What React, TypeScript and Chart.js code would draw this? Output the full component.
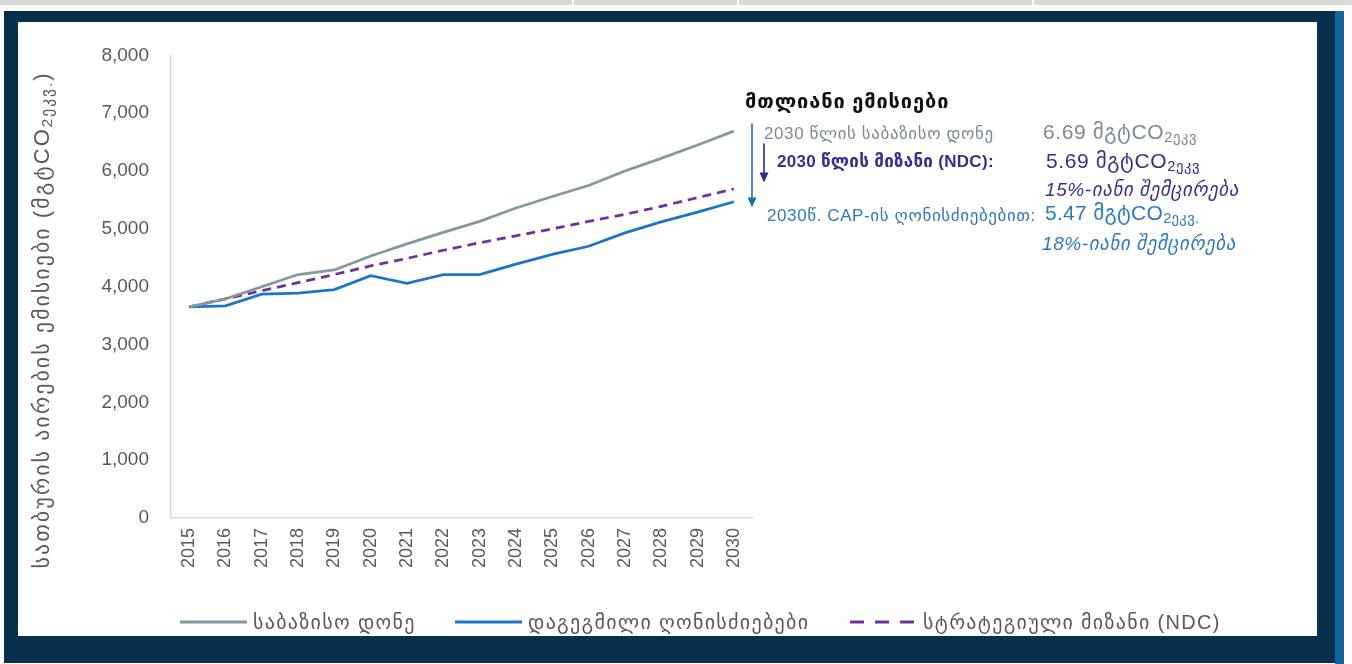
import React, { useEffect, useRef } from "react";
import { Chart, registerables } from "chart.js";

Chart.register(...registerables);

// ---- data -------------------------------------------------------------
const years = ["2015", "2016", "2017", "2018", "2019", "2020", "2021", "2022", "2023", "2024", "2025", "2026", "2027", "2028", "2029", "2030"];

// ათასი ტონა CO2 ეკვ.
const baselineLevel = [3650, 3790, 4000, 4210, 4290, 4530, 4740, 4940, 5130, 5360, 5560, 5750, 6000, 6220, 6450, 6690];
const plannedMeasures = [3650, 3670, 3870, 3890, 3950, 4190, 4060, 4210, 4210, 4390, 4560, 4700, 4930, 5120, 5290, 5470];
const ndcTarget = [3650, 3790, 3930, 4070, 4210, 4360, 4490, 4630, 4760, 4880, 5000, 5130, 5250, 5390, 5540, 5690];

const yMin = 0;
const yMax = 8000;
const yStep = 1000;

const seriesNames = ["საბაზისო დონე", "დაგეგმილი ღონისძიებები", "სტრატეგიული მიზანი (NDC)"];

// ---- styles -----------------------------------------------------------
const FONT = '"Liberation Sans", "DejaVu Sans", Arial, sans-serif';
const NAVY = "#06304b";
const TEXT_GREY = "#595959";
const AXIS_GREY = "#d9d9d9";
const BASE_COLOR = "#8399a2";
const PLAN_COLOR = "#1b75c8";
const NDC_COLOR = "#7030a0";
const NOTE_GREY = "#7b8a93";
const NOTE_PURPLE = "#3a2d8f";
const NOTE_BLUE = "#2e78be";

const seriesStyles = [
  { color: BASE_COLOR, dash: [] as number[] },
  { color: PLAN_COLOR, dash: [] as number[] },
  { color: NDC_COLOR, dash: [9, 6] },
];

const last = years.length - 1;
const mt = (v: number) => (v / 1000).toFixed(2);
const cut = (v: number) => Math.round((1 - v / baselineLevel[last]) * 100);

// vertical arrows next to the 2030 end points
const arrowPlugin = {
  id: "reductionArrows",
  afterDraw(chart: any) {
    const { ctx, chartArea } = chart;
    const draw = (x: number, y0: number, y1: number, color: string) => {
      ctx.save();
      ctx.strokeStyle = color;
      ctx.fillStyle = color;
      ctx.lineWidth = 1.6;
      ctx.beginPath();
      ctx.moveTo(x, y0);
      ctx.lineTo(x, y1 - 9);
      ctx.stroke();
      ctx.beginPath();
      ctx.moveTo(x - 4.5, y1 - 10);
      ctx.lineTo(x + 4.5, y1 - 10);
      ctx.lineTo(x, y1);
      ctx.closePath();
      ctx.fill();
      ctx.restore();
    };
    const x = chartArea.right;
    draw(x, chartArea.top + 68, chartArea.top + 152, "#1f6fb5");
    draw(x + 12, chartArea.top + 88, chartArea.top + 127, "#2e2a8c");
  },
};

function Sub({ children }: { children: React.ReactNode }) {
  return <span style={{ fontSize: "0.7em", verticalAlign: "-0.2em" }}>{children}</span>;
}

export default function App() {
  const canvasRef = useRef<HTMLCanvasElement | null>(null);

  useEffect(() => {
    if (!canvasRef.current) return;
    const series = [baselineLevel, plannedMeasures, ndcTarget];
    const chart = new Chart(canvasRef.current, {
      type: "line",
      data: {
        labels: years,
        datasets: series.map((d, i) => ({
          label: seriesNames[i],
          data: d,
          borderColor: seriesStyles[i].color,
          backgroundColor: seriesStyles[i].color,
          borderDash: seriesStyles[i].dash,
          borderWidth: 2.75,
          pointRadius: 0,
          tension: 0,
          fill: false,
        })),
      },
      options: {
        responsive: false,
        animation: false,
        layout: { padding: { left: 0, top: 30, right: 565, bottom: 58 } },
        plugins: {
          legend: { display: false },
          tooltip: { enabled: false },
          title: { display: false },
        },
        scales: {
          x: {
            offset: true,
            grid: { display: false, drawTicks: false },
            border: { display: true, color: AXIS_GREY, width: 1.5 },
            ticks: {
              color: TEXT_GREY,
              font: { family: FONT, size: 18 },
              minRotation: 90,
              maxRotation: 90,
              padding: 10,
              autoSkip: false,
            },
            afterFit: (s: any) => {
              s.height = 60;
            },
          },
          y: {
            min: yMin,
            max: yMax,
            grid: { display: false, drawTicks: false },
            border: { display: true, color: AXIS_GREY, width: 1.5 },
            ticks: {
              stepSize: yStep,
              padding: 22,
              color: TEXT_GREY,
              font: { family: FONT, size: 19 },
              callback: (v: any) => Number(v).toLocaleString("en-US"),
            },
            afterFit: (s: any) => {
              s.width = 153;
            },
          },
        },
      },
      plugins: [arrowPlugin],
    });
    return () => chart.destroy();
  }, []);

  const abs = (left: number, top: number, extra: React.CSSProperties = {}): React.CSSProperties => ({
    position: "absolute",
    left,
    top,
    transform: "translateY(-50%)",
    whiteSpace: "nowrap",
    lineHeight: 1,
    fontFamily: FONT,
    ...extra,
  });

  const legendLeft = [180, 455, 850];

  return (
    <div style={{ position: "fixed", left: 0, top: 0, width: 1352, height: 664, background: "#ffffff", overflow: "hidden", fontFamily: FONT }}>
      {/* top strip */}
      <div style={{ position: "absolute", left: 0, top: 0, width: 1352, height: 5, background: "#d9d9d9" }} />
      {[572, 737, 1032].map((x) => (
        <div key={x} style={{ position: "absolute", left: x, top: 0, width: 2, height: 5, background: "#ffffff" }} />
      ))}
      {/* frame */}
      <div style={{ position: "absolute", left: 4, top: 11, width: 1331, height: 652, background: NAVY }} />
      <div style={{ position: "absolute", left: 1335, top: 11, width: 9, height: 653, background: "#17649f" }} />
      <div style={{ position: "absolute", left: 18, top: 22, width: 1299, height: 614, background: "#ffffff" }}>
        <canvas ref={canvasRef} width={1299} height={614} style={{ display: "block", width: 1299, height: 614 }} />
      </div>

      {/* y axis title */}
      <div
        style={{
          position: "absolute",
          left: 42 - 300,
          top: 320 - 13,
          width: 600,
          height: 26,
          lineHeight: "26px",
          textAlign: "center",
          transform: "rotate(-90deg)",
          transformOrigin: "50% 50%",
          color: TEXT_GREY,
          fontSize: 22,
          letterSpacing: 2,
          whiteSpace: "nowrap",
        }}
      >
        სათბურის აირების ემისიები (მგტCO<Sub>2ეკვ.</Sub>)
      </div>

      {/* annotations */}
      <div style={abs(745, 101, { fontSize: 20, fontWeight: "bold", letterSpacing: 0.9, color: "#111111" })}>მთლიანი ემისიები</div>

      <div style={abs(764, 133, { fontSize: 17, letterSpacing: 0.6, color: NOTE_GREY })}>2030 წლის საბაზისო დონე</div>
      <div style={abs(1043, 133, { fontSize: 21, letterSpacing: 0.6, color: NOTE_GREY })}>
        {mt(baselineLevel[last])} მგტCO<Sub>2ეკვ</Sub>
      </div>

      <div style={abs(777, 161, { fontSize: 17, fontWeight: "bold", letterSpacing: 0.3, color: NOTE_PURPLE })}>2030 წლის მიზანი (NDC):</div>
      <div style={abs(1046, 162, { fontSize: 21, letterSpacing: 0.6, color: NOTE_PURPLE })}>
        {mt(ndcTarget[last])} მგტCO<Sub>2ეკვ</Sub>
      </div>
      <div style={abs(1045, 189, { fontSize: 19, fontStyle: "italic", letterSpacing: 0.6, color: NOTE_PURPLE })}>{cut(ndcTarget[last])}%-იანი შემცირება</div>

      <div style={abs(767, 215, { fontSize: 17, letterSpacing: 0.6, color: NOTE_BLUE })}>2030წ. CAP-ის ღონისძიებებით:</div>
      <div style={abs(1045, 214, { fontSize: 21, letterSpacing: 0.3, color: NOTE_BLUE })}>
        {mt(plannedMeasures[last])} მგტCO<Sub>2ეკვ.</Sub>
      </div>
      <div style={abs(1042, 243, { fontSize: 19, fontStyle: "italic", letterSpacing: 0.6, color: NOTE_BLUE })}>{cut(plannedMeasures[last])}%-იანი შემცირება</div>

      {/* legend */}
      {seriesNames.map((name, i) => (
        <div key={name} style={abs(legendLeft[i], 622, { display: "flex", alignItems: "center", fontSize: 20, letterSpacing: 1.3, color: TEXT_GREY })}>
          <svg width={67} height={6} style={{ display: "block", marginRight: 6 }}>
            <line
              x1={0}
              y1={3}
              x2={67}
              y2={3}
              stroke={seriesStyles[i].color}
              strokeWidth={3}
              strokeDasharray={seriesStyles[i].dash.length ? "14 11" : undefined}
            />
          </svg>
          <span>{name}</span>
        </div>
      ))}
    </div>
  );
}
